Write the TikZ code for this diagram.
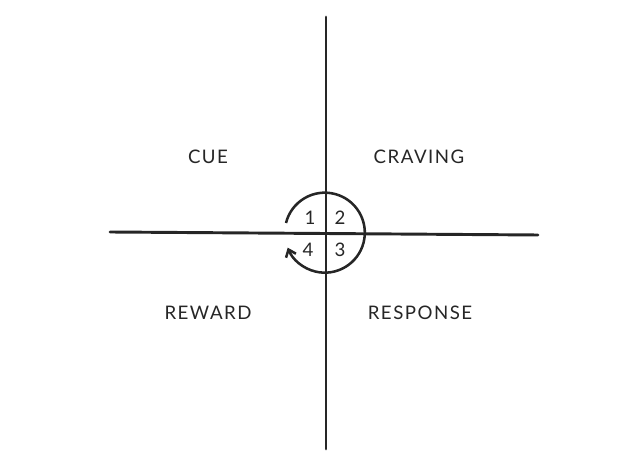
\documentclass[tikz,border=0pt]{standalone}
\usepackage{fontspec}
\setmainfont{Lato}[LetterSpace=8]
\usetikzlibrary{arrows.meta}
\begin{document}
\begin{tikzpicture}[x=0.75pt, y=0.75pt,
	axis/.style={line width=2.2pt, draw=black!85, line cap=round},
	loop/.style={line width=1.9pt, draw=black!85, -{Straight Barb[length=5pt, width=8pt, line width=1.9pt]}},
	phase/.style={font=\fontsize{14}{16}\selectfont, text=black!85},
	num/.style={font=\fontsize{14}{16}\selectfont, text=black!85, inner sep=0pt}]
			\useasboundingbox (0,0) rectangle (637,464);
			
			% Axes
			\coordinate (top) at (326,447);
			\coordinate (bottom) at (326,15);
			\coordinate (left) at (110,232);
			\coordinate (right) at (538,229);
			\draw [axis] (top) -- (bottom);
			\draw [axis] (left) -- (right);
			
			% Loop
			\coordinate (start) at (286,241);
			\draw [loop] (start) arc[start angle=166, end angle=-158, radius=40];
			
			% Numbers
			\node [num] (n1) at (310,246) {1};
			\node [num] (n2) at (340,246) {2};
			\node [num] (n3) at (340,214) {3};
			\node [num] (n4) at (308,214) {4};
			
			% Phases
			\node [phase] (cue) at (208,307) {CUE};
			\node [phase] (craving) at (419,307) {CRAVING};
			\node [phase] (reward) at (208,151) {REWARD};
			\node [phase] (response) at (420,151) {RESPONSE};
		\end{tikzpicture}
\end{document}
